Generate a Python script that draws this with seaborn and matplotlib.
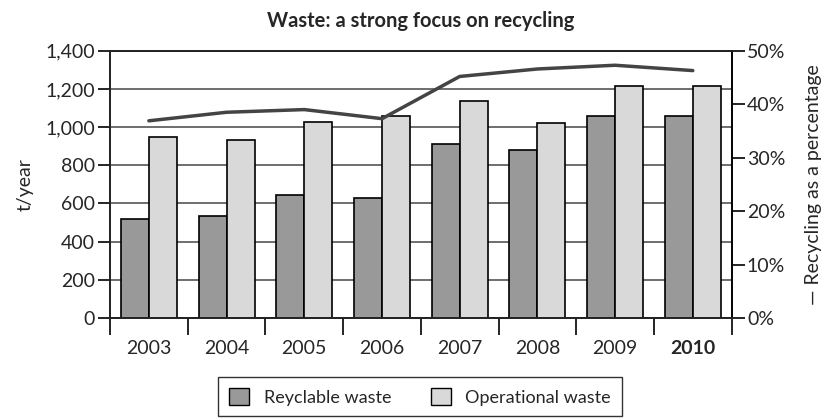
import numpy as np
import pandas as pd
import matplotlib
matplotlib.use("Agg")
import matplotlib.pyplot as plt
import seaborn as sns
from matplotlib.patches import Patch
from matplotlib.ticker import FuncFormatter, MultipleLocator

years = ["2003", "2004", "2005", "2006", "2007", "2008", "2009", "2010"]
recyclable = [520, 535, 645, 630, 910, 880, 1060, 1060]
operational = [950, 930, 1025, 1060, 1135, 1020, 1215, 1215]
recycling_pct = [36.9, 38.5, 39.0, 37.3, 45.2, 46.6, 47.3, 46.3]
series_names = ["Reyclable waste", "Operational waste"]

df = pd.DataFrame({
    "year": years * 2,
    "value": recyclable + operational,
    "kind": [series_names[0]] * len(years) + [series_names[1]] * len(years),
})

sns.set_theme(style="white")
plt.rcParams["font.family"] = ["Lato", "DejaVu Sans"]

fig = plt.figure(figsize=(8.4, 4.2), dpi=100)
ax = fig.add_axes([0.131, 0.243, 0.74, 0.636])

palette = {series_names[0]: "#999999", series_names[1]: "#d9d9d9"}
sns.barplot(data=df, x="year", y="value", hue="kind", order=years,
            hue_order=series_names, palette=palette, width=0.72,
            edgecolor="black", linewidth=1.2, saturation=1, ax=ax, zorder=3)
if ax.get_legend() is not None:
    ax.get_legend().remove()

ax.set_ylim(0, 1400)
ax.set_xlim(-0.5, len(years) - 0.5)
ax.yaxis.set_major_locator(MultipleLocator(200))
ax.yaxis.set_major_formatter(FuncFormatter(lambda v, p: f"{int(v):,}"))
ax.grid(axis="y", color="#555555", linewidth=1.2, zorder=0)
ax.set_axisbelow(True)

# category boundary ticks on the x axis, labels centred between them
ax.set_xticks(np.arange(len(years)))
ax.set_xticklabels(years)
ax.set_xticks(np.arange(-0.5, len(years)), minor=True)
ax.tick_params(axis="x", which="major", length=0, labelsize=14, pad=16)
ax.tick_params(axis="x", which="minor", length=12, width=1.2, color="black",
               direction="out", bottom=True)
ax.tick_params(axis="y", length=9, width=1.2, color="black", direction="out",
               left=True, labelsize=14, pad=2)
for lbl in ax.get_xticklabels():
    if lbl.get_text() == "2010":
        lbl.set_fontweight("bold")

for side in ["left", "right", "top", "bottom"]:
    ax.spines[side].set_visible(True)
    ax.spines[side].set_color("black")
    ax.spines[side].set_linewidth(1.2)

ax.set_xlabel("")
ax.set_ylabel("t/year", fontsize=14, labelpad=8)

ax2 = ax.twinx()
sns.lineplot(x=np.arange(len(years)), y=recycling_pct, color="#444444",
             linewidth=2.5, ax=ax2, zorder=4)
ax2.set_ylim(0, 50)
ax2.yaxis.set_major_locator(MultipleLocator(10))
ax2.yaxis.set_major_formatter(FuncFormatter(lambda v, p: f"{int(v)}%"))
ax2.tick_params(axis="y", length=9, width=1.2, color="black", direction="out",
                right=True, labelsize=14, pad=2)
ax2.set_ylabel("— Recycling as a percentage", fontsize=14, labelpad=14)
ax2.spines["right"].set_color("black")
ax2.spines["right"].set_linewidth(1.2)
ax2.grid(False)

ax.set_title("Waste: a strong focus on recycling", fontsize=14.5,
             fontweight="bold", pad=17)

handles = [Patch(facecolor=palette[n], edgecolor="black", linewidth=1.0) for n in series_names]
leg = fig.legend(handles, series_names, loc="lower center",
                 bbox_to_anchor=(0.5, 0.0), ncol=2, frameon=True,
                 fancybox=False, edgecolor="black", fontsize=13,
                 handlelength=1.1, handleheight=1.1, columnspacing=2.2,
                 borderpad=0.6, borderaxespad=0.2)
leg.get_frame().set_linewidth(1.0)

fig.savefig("out.png", dpi=100)
